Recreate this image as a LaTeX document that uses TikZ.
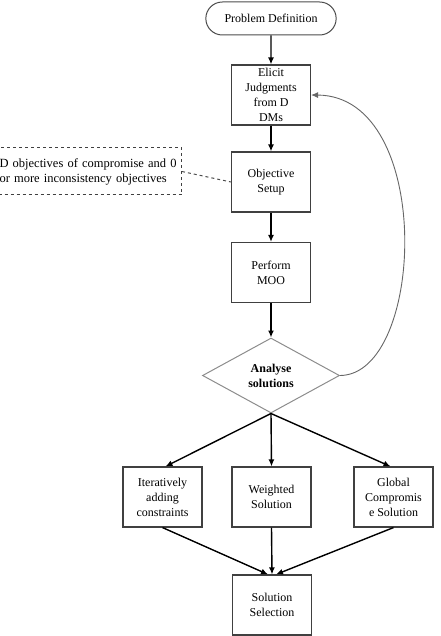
\documentclass[tikz,border=0pt]{standalone}
\usepackage{fontspec}
\setmainfont{Liberation Serif}
\usepackage{tikz}
\usetikzlibrary{shapes,arrows.meta,positioning}

\tikzset{
  stepbox/.style={draw=black!75, line width=1.1pt, inner sep=0pt, minimum width=79pt,
    minimum height=60pt, align=center, font=\fontsize{12}{15}\selectfont},
  flow/.style={-{Latex[length=7pt,width=6pt]}, line width=1.4pt},
}

\begin{document}
\begin{tikzpicture}[x=1pt,y=-1pt]
\useasboundingbox (0,0) rectangle (440,636);
\node[draw=black!70, line width=1pt, rounded rectangle, minimum width=137pt, minimum height=33pt,
  font=\fontsize{12}{15}\selectfont] (start) at (271,18.5) {Problem Definition};
\node[stepbox] (elicit) at (271,95) {Elicit\\Judgments\\from D\\DMs};
\node[stepbox] (setup) at (271,182) {Objective\\Setup};
\node[stepbox] (moo) at (271,272.5) {Perform\\MOO};
\node[draw=black!45, line width=1pt, diamond, aspect=1.8, inner sep=0pt, minimum width=137pt,
  minimum height=75pt, align=center, font=\fontsize{12}{15}\selectfont\bfseries] (analyse) at (271,375.5) {Analyse\\solutions};
\node[stepbox] (iter) at (162.5,497) {Iteratively\\adding\\constraints};
\node[stepbox] (weighted) at (271.5,497) {Weighted\\Solution};
\node[stepbox] (global) at (393.5,497) {Global\\Compromis\\e Solution};
\node[stepbox] (select) at (272,605) {Solution\\Selection};
\node[draw=black!75, dashed, line width=1pt, anchor=east, text width=189pt, inner xsep=3pt,
  minimum height=47pt, align=left, font=\fontsize{12.5}{15}\selectfont] (note) at (182,171.5)
  {\hspace*{10pt}D objectives of compromise and 0\\\hspace*{10pt}or more inconsistency objectives};

\draw[flow] (start) -- (elicit);
\draw[flow] (elicit) -- (setup);
\draw[flow] (setup) -- (moo);
\draw[flow] (moo) -- (analyse);
\draw[flow] (analyse.south) -- ([xshift=3pt]iter.north);
\draw[flow] (analyse.south) -- (weighted.north);
\draw[flow] (analyse.south) -- ([xshift=-3pt]global.north);
\draw[flow] (iter.south) -- ([xshift=-4pt]select.north);
\draw[flow] (weighted.south) -- (select.north);
\draw[flow] (global.south) -- ([xshift=4pt]select.north);
\draw[black!60, line width=0.9pt, -{Latex[length=7pt,width=6pt]}] (analyse.east)
  .. controls (425,375) and (435,96) .. (elicit.east);
\draw[black!70, dashed, line width=1pt] (note.east) -- (setup.west);
\end{tikzpicture}
\end{document}
